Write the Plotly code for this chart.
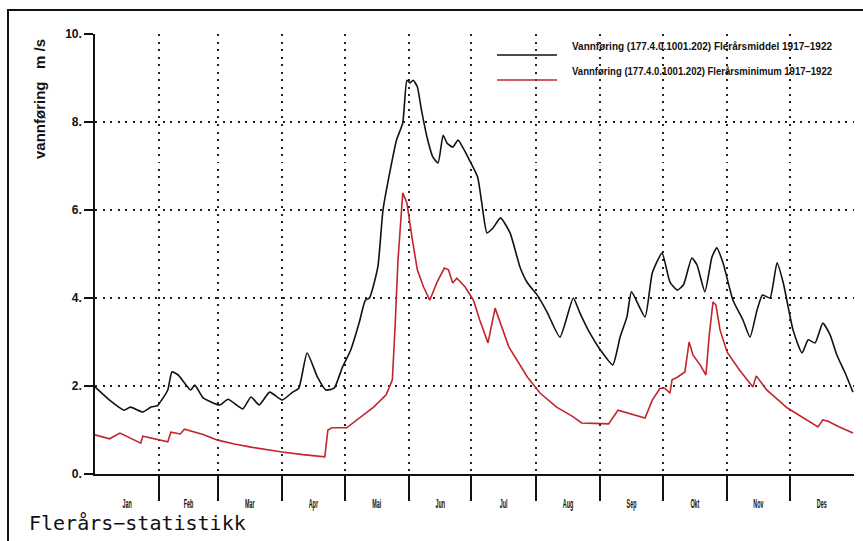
import plotly.graph_objects as go

# Day-of-year positions and discharge (m3/s) for the multi-year mean, 1917-1922
mean_day = [0, 7, 14, 17, 23, 27, 30, 31, 35, 37, 40, 46, 48, 52, 60, 64, 71, 75, 79, 84,
            90, 95, 98, 102, 107, 111, 115, 119, 123, 127, 130, 132, 136, 138.5, 142, 145,
            148, 150, 151.5, 153, 155, 157, 160, 162.5, 165, 167.4, 169.3, 172, 174.6, 177,
            180, 184, 186, 188.5, 191.4, 195, 199.6, 204.4, 208, 212.6, 217.4, 223.6, 230,
            233, 238, 243, 249, 252.5, 255.8, 258, 264.5, 268, 272.7, 276.5, 280, 283, 287,
            289.5, 293.3, 296.7, 299, 302, 306.8, 311.6, 315, 318.4, 321, 324.6, 328, 331,
            335.7, 340, 343, 346.3, 350, 353.5, 356.8, 360.7, 364.5]
mean_val = [1.98, 1.68, 1.45, 1.52, 1.41, 1.52, 1.55, 1.61, 1.91, 2.32, 2.25, 1.91, 2.02,
            1.73, 1.57, 1.70, 1.48, 1.75, 1.57, 1.86, 1.68, 1.86, 1.95, 2.75, 2.20, 1.91,
            1.95, 2.43, 2.82, 3.43, 3.95, 4.00, 4.70, 6.00, 6.91, 7.59, 7.98, 8.95, 8.89,
            8.95, 8.80, 8.27, 7.59, 7.20, 7.07, 7.70, 7.52, 7.43, 7.59, 7.41, 7.14, 6.75,
            6.16, 5.48, 5.59, 5.82, 5.48, 4.70, 4.34, 4.07, 3.68, 3.11, 4.00, 3.68, 3.20,
            2.82, 2.48, 3.11, 3.57, 4.14, 3.57, 4.57, 5.02, 4.36, 4.18, 4.30, 4.91, 4.75,
            4.14, 4.93, 5.14, 4.80, 3.95, 3.50, 3.11, 3.73, 4.07, 4.00, 4.80, 4.34, 3.27,
            2.75, 3.05, 2.98, 3.43, 3.16, 2.70, 2.30, 1.86]

# Day-of-year positions and discharge (m3/s) for the multi-year minimum, 1917-1922
min_day = [0, 7, 12, 22, 23, 31, 35, 36.5, 41, 43, 52, 59, 67, 75, 83, 90, 100, 110.5, 112,
           114, 121, 127, 134, 140, 143, 144.3, 145.7, 148, 150, 152.4, 155, 158, 161, 164.5,
           168, 170, 172, 174, 178, 182, 185, 189, 192.4, 199, 204, 208, 214, 222, 230, 234,
           240, 247, 251.5, 264.5, 268, 271.7, 274, 276.5, 277.5, 280, 283.7, 285.7, 287.6,
           291, 293.8, 295.3, 297.2, 298.6, 300.6, 304, 310, 316.4, 318, 323, 333, 342,
           347.7, 350, 352.5, 358, 364.5]
min_val = [0.89, 0.80, 0.93, 0.70, 0.86, 0.77, 0.73, 0.95, 0.91, 1.02, 0.90, 0.77, 0.68,
           0.61, 0.55, 0.50, 0.44, 0.39, 1.00, 1.05, 1.05, 1.27, 1.52, 1.80, 2.14, 3.34,
           4.86, 6.39, 6.16, 5.39, 4.64, 4.25, 3.95, 4.36, 4.68, 4.64, 4.34, 4.45, 4.25,
           3.95, 3.50, 2.98, 3.77, 2.89, 2.50, 2.20, 1.84, 1.52, 1.30, 1.16, 1.15, 1.14,
           1.45, 1.27, 1.68, 1.95, 1.95, 1.84, 2.14, 2.20, 2.32, 3.00, 2.70, 2.48, 2.25,
           3.11, 3.91, 3.84, 3.27, 2.77, 2.36, 1.98, 2.23, 1.91, 1.50, 1.23, 1.07, 1.23,
           1.20, 1.07, 0.93]

months = ["Jan", "Feb", "Mar", "Apr", "Mai", "Jun", "Jul", "Aug", "Sep", "Okt", "Nov", "Des"]
month_len = [31, 28, 31, 30, 31, 30, 31, 31, 30, 31, 30, 31]
y_ticks = [0, 2, 4, 6, 8, 10]
y_ticktext = ["0.", "2.", "4.", "6.", "8.", "10."]

mean_name = "Vannføring (177.4.0.1001.202) Flerårsmiddel 1917–1922"
min_name = "Vannføring (177.4.0.1001.202) Flerårsminimum 1917–1922"

month_start = [sum(month_len[:i]) for i in range(12)]
month_mid = [s + n / 2 for s, n in zip(month_start, month_len)]
year_len = sum(month_len)

W, H = 863, 541
L, R, T, B = 95, 9, 34, 67
pw, ph = W - L - R, H - T - B


def px(x):
    return (x - L) / pw


def py(y):
    return (H - B - y) / ph


SANS = "Liberation Sans, Arial, sans-serif"
DOTS = "2px,5.5px"

fig = go.Figure()
fig.add_trace(go.Scatter(x=mean_day, y=mean_val, mode="lines", name=mean_name,
                         line=dict(color="#111111", width=1.6, shape="spline", smoothing=0.5)))
fig.add_trace(go.Scatter(x=min_day, y=min_val, mode="lines", name=min_name,
                         line=dict(color="#c0262b", width=1.6)))

fig.update_layout(
    width=W, height=H,
    margin=dict(l=L, r=R, t=T, b=B),
    paper_bgcolor="white", plot_bgcolor="white",
    showlegend=False,
    xaxis=dict(
        range=[0, year_len], showline=True, linecolor="#111111", linewidth=1.5,
        tickmode="array", tickvals=month_mid, ticktext=months, ticks="",
        ticklabelstandoff=18,
        tickfont=dict(family=SANS, size=12, color="#111111", weight="bold"),
        showgrid=False, zeroline=False,
        minor=dict(tickmode="array", tickvals=month_start[1:], ticks="outside",
                   ticklen=25, tickwidth=1.5, tickcolor="#111111",
                   showgrid=True, gridcolor="#222222", gridwidth=2, griddash=DOTS),
    ),
    yaxis=dict(
        range=[0, 10], showline=True, linecolor="#111111", linewidth=1.5,
        tickmode="array", tickvals=y_ticks, ticktext=y_ticktext,
        ticks="outside", ticklen=9, tickwidth=1.5, tickcolor="#111111",
        tickfont=dict(family=SANS, size=12, color="#111111", weight="bold"),
        showgrid=True, gridcolor="#222222", gridwidth=2, griddash=DOTS,
        zeroline=False,
    ),
)

# outer frame
fig.add_shape(type="rect", xref="paper", yref="paper",
              x0=px(8), x1=px(880), y0=py(580), y1=py(10),
              line=dict(color="#111111", width=2), layer="above")

# legend keys and labels
LEG_X, LEG_W = 580, 260
for name, color, yl, yt in [(mean_name, "#111111", 55, 46), (min_name, "#c0262b", 80, 71)]:
    fig.add_shape(type="line", xref="paper", yref="paper",
                  x0=px(497), x1=px(557), y0=py(yl), y1=py(yl),
                  line=dict(color=color, width=1.5))
    fig.add_annotation(xref="paper", yref="paper", x=px(LEG_X), y=py(yt),
                       text=name, showarrow=False, xanchor="left", yanchor="middle",
                       font=dict(family=SANS, size=10.5, color="#111111", weight="bold"))

# axis title
fig.add_annotation(xref="paper", yref="paper", x=px(40), y=py(99),
                   text="vannføring   m /s", showarrow=False, textangle=-90,
                   xanchor="center", yanchor="middle",
                   font=dict(family=SANS, size=15, color="#111111", weight="bold"))

# footer caption
fig.add_annotation(xref="paper", yref="paper", x=px(27), y=py(523),
                   text="Flerårs−statistikk", showarrow=False,
                   xanchor="left", yanchor="middle",
                   font=dict(family="DejaVu Sans Mono, monospace", size=20, color="#111111"))

# narrow, plotter-style lettering for legend labels and month names
condense_js = """
var gd = document.getElementById('{plot_id}');
function squeeze(t, width) {
  t.setAttribute('textLength', width.toFixed(1));
  t.setAttribute('lengthAdjust', 'spacingAndGlyphs');
}
function condense() {
  gd.querySelectorAll('text').forEach(function (t) {
    var s = t.textContent || '';
    if (s.indexOf('Vannføring (') === 0) {
      squeeze(t, %(w)d);
      var r = t.getBoundingClientRect();
      var x0 = parseFloat(t.getAttribute('x')) || 0;
      t.setAttribute('x', (x0 + %(x)d - r.left).toFixed(1));
    }
  });
  gd.querySelectorAll('.xtick text').forEach(function (t) {
    squeeze(t, t.getComputedTextLength() * 0.45);
  });
}
condense();
""" % {"w": LEG_W, "x": LEG_X}

fig.write_html("out.html", post_script=condense_js)
